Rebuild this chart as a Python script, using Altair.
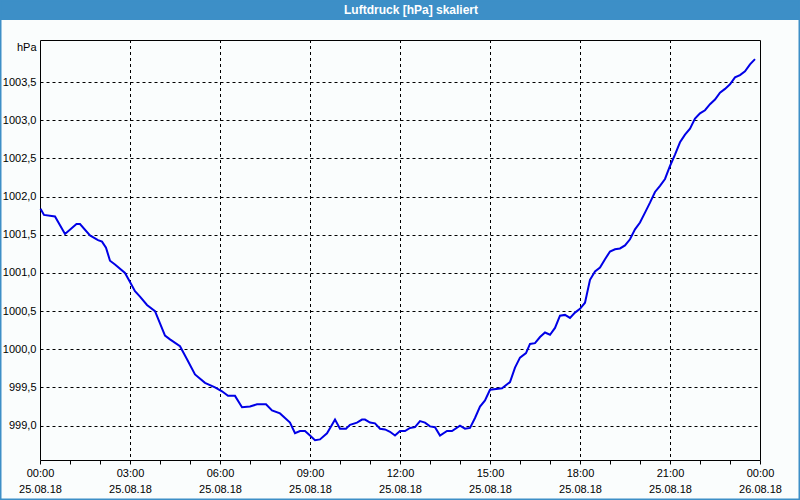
import altair as alt
import pandas as pd

# minutes since 25.08.18 00:00
minutes = [1, 8, 30, 50, 73, 80, 100, 116, 124, 132, 140, 150, 170, 180, 190, 200, 214, 230, 240, 250,
           260, 280, 294, 310, 330, 350, 364, 376, 390, 404, 420, 434, 452, 464, 480, 490, 500, 510, 520, 530,
           540, 550, 560, 574, 582, 590, 600, 612, 620, 634, 644, 650, 660, 670, 680, 690, 700, 710, 720, 730,
           740, 750, 760, 770, 780, 790, 800, 814, 824, 840, 850, 860, 870, 880, 890, 900, 924, 940, 950, 960,
           972, 980, 990, 1000, 1010, 1020, 1030, 1040, 1050, 1060, 1070, 1080, 1090, 1100, 1110, 1120, 1130, 1140, 1150, 1160,
           1170, 1180, 1190, 1200, 1210, 1220, 1230, 1240, 1250, 1260, 1270, 1280, 1290, 1300, 1310, 1320, 1330, 1340, 1350, 1360,
           1370, 1380, 1390, 1400, 1410, 1420, 1430]
pressure = [1001.84, 1001.76, 1001.74, 1001.51, 1001.64, 1001.64, 1001.49, 1001.43, 1001.41, 1001.33,
            1001.16, 1001.11, 1001.00, 1000.88, 1000.76, 1000.69, 1000.58, 1000.50, 1000.34, 1000.18,
            1000.13, 1000.04, 999.87, 999.67, 999.56, 999.50, 999.45, 999.39, 999.39, 999.24,
            999.25, 999.28, 999.28, 999.20, 999.16, 999.10, 999.04, 998.90, 998.93, 998.93,
            998.87, 998.81, 998.82, 998.90, 998.99, 999.08, 998.96, 998.96, 999.01, 999.04,
            999.08, 999.08, 999.04, 999.03, 998.96, 998.95, 998.92, 998.87, 998.93, 998.93,
            998.97, 998.98, 999.06, 999.04, 998.99, 998.98, 998.87, 998.93, 998.93, 999.00,
            998.96, 998.97, 999.10, 999.25, 999.33, 999.47, 999.49, 999.57, 999.76, 999.89,
            999.95, 1000.07, 1000.08, 1000.16, 1000.22, 1000.19, 1000.28, 1000.44, 1000.45, 1000.41,
            1000.48, 1000.53, 1000.61, 1000.91, 1001.02, 1001.07, 1001.18, 1001.28, 1001.31, 1001.32,
            1001.36, 1001.44, 1001.57, 1001.66, 1001.79, 1001.92, 1002.06, 1002.14, 1002.23, 1002.40,
            1002.55, 1002.71, 1002.81, 1002.89, 1003.02, 1003.09, 1003.13, 1003.21, 1003.27, 1003.36,
            1003.41, 1003.47, 1003.56, 1003.59, 1003.64, 1003.73, 1003.80]

y_ticks = [999.0, 999.5, 1000.0, 1000.5, 1001.0, 1001.5, 1002.0, 1002.5, 1003.0, 1003.5]
tick_hours = list(range(0, 25))
grid_hours = [3, 6, 9, 12, 15, 18, 21]
title_text = "Luftdruck [hPa] skaliert"
y_unit = "hPa"

base_day = pd.Timestamp("2018-08-25 00:00")
df = pd.DataFrame({
    "t": [(base_day + pd.Timedelta(minutes=m)).strftime("%Y-%m-%dT%H:%M") for m in minutes],
    "p": pressure,
})
grid_df = pd.DataFrame({"t": [(base_day + pd.Timedelta(hours=h)).strftime("%Y-%m-%dT%H:%M") for h in grid_hours]})


def dt(h):
    ts = base_day + pd.Timedelta(hours=h)
    return alt.DateTime(year=ts.year, month=ts.month, date=ts.day, hours=ts.hour)


FONT = "Liberation Sans"
BLUE = "#3d8fc7"
BG = "#fafdfd"

x_scale = alt.Scale(domain=[dt(0), dt(24)])
y_scale = alt.Scale(domain=[998.55, 1004.05], nice=False, zero=False)

x_axis = alt.Axis(
    values=[dt(h) for h in tick_hours],
    labelExpr="hours(datum.value) % 3 == 0 ? [timeFormat(datum.value, '%H:%M'), timeFormat(datum.value, '%d.%m.%y')] : ''",
    tickSize=4, tickColor="black", domain=False, grid=False, title=None,
    labelFont=FONT, labelFontSize=11, labelColor="black", labelLineHeight=16,
    labelPadding=3, labelFlush=False, labelOverlap=False,
)
y_axis = alt.Axis(
    values=y_ticks,
    labelExpr="replace(format(datum.value, '.1f'), '.', ',')",
    ticks=False, domain=False, grid=True, gridColor="black", gridDash=[3, 3], gridWidth=1,
    labelFont=FONT, labelFontSize=11, labelColor="black", labelPadding=4,
    title=y_unit, titleAngle=0, titleAlign="right", titleBaseline="middle",
    titleX=-4, titleY=7, titleFont=FONT, titleFontSize=11, titleFontWeight="normal", titleColor="black",
)

xgrid = alt.Chart(grid_df).mark_rule(color="black", strokeDash=[3, 3], strokeWidth=1, xOffset=0.5).encode(
    x=alt.X("t:T", scale=x_scale, axis=x_axis),
)

line = alt.Chart(df).mark_line(color="#0000e6", strokeWidth=2).encode(
    x=alt.X("t:T", scale=x_scale, axis=x_axis),
    y=alt.Y("p:Q", scale=y_scale, axis=y_axis),
)

one = alt.Data(values=[{}])
bar = alt.Chart(one).mark_rect(color=BLUE).encode(
    x=alt.value(-40), x2=alt.value(760), y=alt.value(-40), y2=alt.value(-20)
)
frame = alt.Chart(one).mark_rect(filled=False, stroke=BLUE, strokeWidth=3).encode(
    x=alt.value(-40), x2=alt.value(760), y=alt.value(-40), y2=alt.value(460)
)
title = alt.Chart(one).mark_text(
    color="white", font=FONT, fontSize=12, fontWeight="bold", align="center", baseline="middle"
).encode(x=alt.value(371), y=alt.value(-30), text=alt.value(title_text))

chart = alt.layer(xgrid, line, bar, frame, title).properties(
    width=720, height=420,
    autosize=alt.AutoSizeParams(type="none"),
    padding={"left": 40, "top": 40, "right": 40, "bottom": 40},
    background=BG,
).configure_view(stroke="black", strokeWidth=1, fill=BG)

chart.save("out.html", embed_options={"renderer": "svg", "actions": False})
